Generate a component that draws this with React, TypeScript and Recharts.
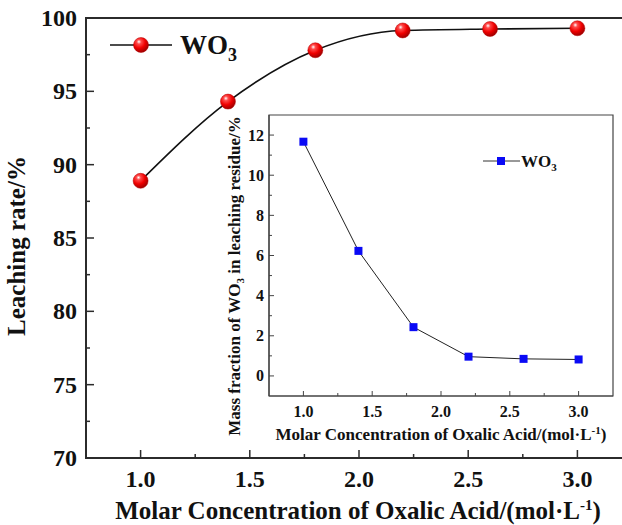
import React from "react";
import {
  Legend,
  Line,
  LineChart,
  ReferenceArea,
  XAxis,
  YAxis,
} from "recharts";

// oxalic acid concentration, mol/L
const concentration = [1.0, 1.4, 1.8, 2.2, 2.6, 3.0];
// WO3 leaching rate, %
const leachingRate = [88.9, 94.3, 97.8, 99.15, 99.25, 99.3];
// WO3 mass fraction left in the residue, %
const residueWO3 = [11.67, 6.23, 2.43, 0.96, 0.85, 0.82];

const xTicks = [1.0, 1.25, 1.5, 1.75, 2.0, 2.25, 2.5, 2.75, 3.0];
const mainYTicks = [70, 72.5, 75, 77.5, 80, 82.5, 85, 87.5, 90, 92.5, 95, 97.5, 100];
const insetYTicks = [0, 1, 2, 3, 4, 5, 6, 7, 8, 9, 10, 11, 12];

const mainData = concentration.map((c, i) => ({ c, rate: leachingRate[i] }));
const insetData = concentration.map((c, i) => ({ c, wo3: residueWO3[i] }));

const FONT = "Liberation Serif, DejaVu Serif, serif";
const AXIS = "#2b2b2b";
const txt = { fontFamily: FONT, fontWeight: 700 } as React.CSSProperties;

const isHalf = (v: number) => Math.abs(v * 2 - Math.round(v * 2)) < 1e-6;

const MainXTick = (props: any) => {
  const { x, y, payload } = props;
  const v = payload.value;
  const major = isHalf(v);
  return (
    <g>
      <line x1={x} x2={x} y1={y} y2={y - (major ? 8 : 4)} stroke={AXIS} strokeWidth={1.5} />
      {major && (
        <text x={x} y={y + 29} textAnchor="middle" style={txt} fontSize={24} fill="#111">
          {v.toFixed(1)}
        </text>
      )}
    </g>
  );
};

const MainYTick = (props: any) => {
  const { x, y, payload } = props;
  const v = payload.value;
  const major = v % 5 === 0;
  return (
    <g>
      <line x1={x} x2={x + (major ? 8 : 4)} y1={y} y2={y} stroke={AXIS} strokeWidth={1.5} />
      {major && (
        <text x={x - 9} y={y + 8} textAnchor="end" style={txt} fontSize={24} fill="#111">
          {v}
        </text>
      )}
    </g>
  );
};

const InsetXTick = (props: any) => {
  const { x, y, payload } = props;
  const v = payload.value;
  const major = isHalf(v);
  return (
    <g>
      <line x1={x} x2={x} y1={y} y2={y - (major ? 5 : 3)} stroke="#444" strokeWidth={1} />
      {major && (
        <text x={x} y={y + 21} textAnchor="middle" style={txt} fontSize={16} fill="#111">
          {v.toFixed(1)}
        </text>
      )}
    </g>
  );
};

const InsetYTick = (props: any) => {
  const { x, y, payload } = props;
  const v = payload.value;
  const major = v % 2 === 0;
  return (
    <g>
      <line x1={x} x2={x + (major ? 5 : 3)} y1={y} y2={y} stroke="#444" strokeWidth={1} />
      {major && (
        <text x={x - 5} y={y + 5.5} textAnchor="end" style={txt} fontSize={16} fill="#111">
          {v}
        </text>
      )}
    </g>
  );
};

const MainXTitle = () => (
  <text x={358} y={519} textAnchor="middle" style={txt} fontSize={25} fill="#111">
    Molar Concentration of Oxalic Acid/(mol·L
    <tspan dy={-9} fontSize={15}>-1</tspan>
    <tspan dy={9}>)</tspan>
  </text>
);

const MainYTitle = () => (
  <text transform="translate(25,246) rotate(-90)" textAnchor="middle" style={txt} fontSize={25} fill="#111">
    Leaching rate/%
  </text>
);

const InsetXTitle = () => (
  <text x={241} y={340} textAnchor="middle" style={txt} fontSize={17} fill="#111">
    Molar Concentration of Oxalic Acid/(mol·L
    <tspan dy={-6} fontSize={11}>-1</tspan>
    <tspan dy={6}>)</tspan>
  </text>
);

const InsetYTitle = () => (
  <text transform="translate(40,176) rotate(-90)" textAnchor="middle" style={txt} fontSize={17} fill="#111">
    Mass fraction of WO
    <tspan dy={4} fontSize={11}>3</tspan>
    <tspan dy={-4}> in leaching residue/%</tspan>
  </text>
);

const BallGradient = ({ id }: { id: string }) => (
  <radialGradient id={id} cx="38%" cy="32%" r="68%" fx="36%" fy="28%">
    <stop offset="0%" stopColor="#ffffff" />
    <stop offset="22%" stopColor="#ff4a4a" />
    <stop offset="60%" stopColor="#f00000" />
    <stop offset="100%" stopColor="#a00000" />
  </radialGradient>
);

const Ball = (props: any) => {
  const { cx, cy, index } = props;
  if (cx == null || cy == null) return null;
  return <circle key={`ball-${index}`} cx={cx} cy={cy} r={7.5} fill="url(#ballGrad)" stroke="#b00000" strokeWidth={0.5} />;
};

const Square = (props: any) => {
  const { cx, cy, index } = props;
  if (cx == null || cy == null) return null;
  return <rect key={`sq-${index}`} x={cx - 4} y={cy - 4} width={8} height={8} fill="#0a0af5" />;
};

const MainLegend = () => (
  <svg width={170} height={45} style={{ display: "block" }}>
    <defs>
      <BallGradient id="ballGradLegend" />
    </defs>
    <line x1={10} x2={72} y1={20} y2={20} stroke="#111" strokeWidth={1.5} />
    <circle cx={41} cy={20} r={7.5} fill="url(#ballGradLegend)" stroke="#b00000" strokeWidth={0.5} />
    <text x={80} y={29} style={txt} fontSize={27} fill="#111">
      WO<tspan dy={7} fontSize={18}>3</tspan>
    </text>
  </svg>
);

const InsetLegend = () => (
  <svg width={90} height={30} style={{ display: "block" }}>
    <line x1={3} x2={40} y1={11} y2={11} stroke="#333" strokeWidth={1} />
    <rect x={17} y={7} width={8} height={8} fill="#0a0af5" />
    <text x={41} y={17} style={txt} fontSize={17} fill="#111">
      WO<tspan dy={4} fontSize={11}>3</tspan>
    </text>
  </svg>
);

export default function App() {
  return (
    <div
      style={{
        position: "absolute",
        left: 0,
        top: 0,
        width: 622,
        height: 525,
        overflow: "hidden",
        background: "#fff",
      }}
    >
      <div style={{ position: "absolute", left: 0, top: 0 }}>
        <LineChart width={640} height={525} data={mainData} margin={{ top: 18, right: 8, bottom: 0, left: 0 }}>
          <defs>
            <BallGradient id="ballGrad" />
          </defs>
          <XAxis
            dataKey="c"
            type="number"
            domain={[0.75, 3.25]}
            ticks={xTicks}
            interval={0}
            height={67}
            tickSize={0}
            tickMargin={0}
            tickLine={false}
            tick={MainXTick}
            axisLine={{ stroke: AXIS, strokeWidth: 2 }}
            label={<MainXTitle />}
          />
          <YAxis
            type="number"
            domain={[70, 100]}
            ticks={mainYTicks}
            interval={0}
            width={86}
            tickSize={0}
            tickMargin={0}
            tickLine={false}
            tick={MainYTick}
            axisLine={{ stroke: AXIS, strokeWidth: 2 }}
            label={<MainYTitle />}
          />
          <ReferenceArea x1={0.75} x2={3.25} y1={70} y2={100} fill="none" stroke={AXIS} strokeWidth={2} />
          <Legend
            layout="horizontal"
            verticalAlign="middle"
            align="center"
            content={() => <MainLegend />}
            wrapperStyle={{ position: "absolute", left: 100, top: 25, width: 170, height: 45 }}
          />
          <Line
            type="monotone"
            dataKey="rate"
            stroke="#111"
            strokeWidth={1.6}
            dot={Ball}
            activeDot={false}
            isAnimationActive={false}
          />
        </LineChart>
      </div>

      <div style={{ position: "absolute", left: 200, top: 100 }}>
        <LineChart width={422} height={350} data={insetData} margin={{ top: 15, right: 9, bottom: 0, left: 0 }}>
          <XAxis
            dataKey="c"
            type="number"
            domain={[0.75, 3.25]}
            ticks={xTicks}
            interval={0}
            height={54}
            tickSize={0}
            tickMargin={0}
            tickLine={false}
            tick={InsetXTick}
            axisLine={{ stroke: "#444", strokeWidth: 1.2 }}
            label={<InsetXTitle />}
          />
          <YAxis
            type="number"
            domain={[-1, 13]}
            ticks={insetYTicks}
            interval={0}
            width={69}
            tickSize={0}
            tickMargin={0}
            tickLine={false}
            tick={InsetYTick}
            axisLine={{ stroke: "#444", strokeWidth: 1.2 }}
            label={<InsetYTitle />}
          />
          <ReferenceArea x1={0.75} x2={3.25} y1={-1} y2={13} fill="none" stroke="#444" strokeWidth={1.2} />
          <Legend
            layout="horizontal"
            verticalAlign="middle"
            align="center"
            content={() => <InsetLegend />}
            wrapperStyle={{ position: "absolute", left: 280, top: 50, width: 90, height: 30 }}
          />
          <Line
            type="linear"
            dataKey="wo3"
            stroke="#222"
            strokeWidth={1}
            dot={Square}
            activeDot={false}
            isAnimationActive={false}
          />
        </LineChart>
      </div>
    </div>
  );
}
